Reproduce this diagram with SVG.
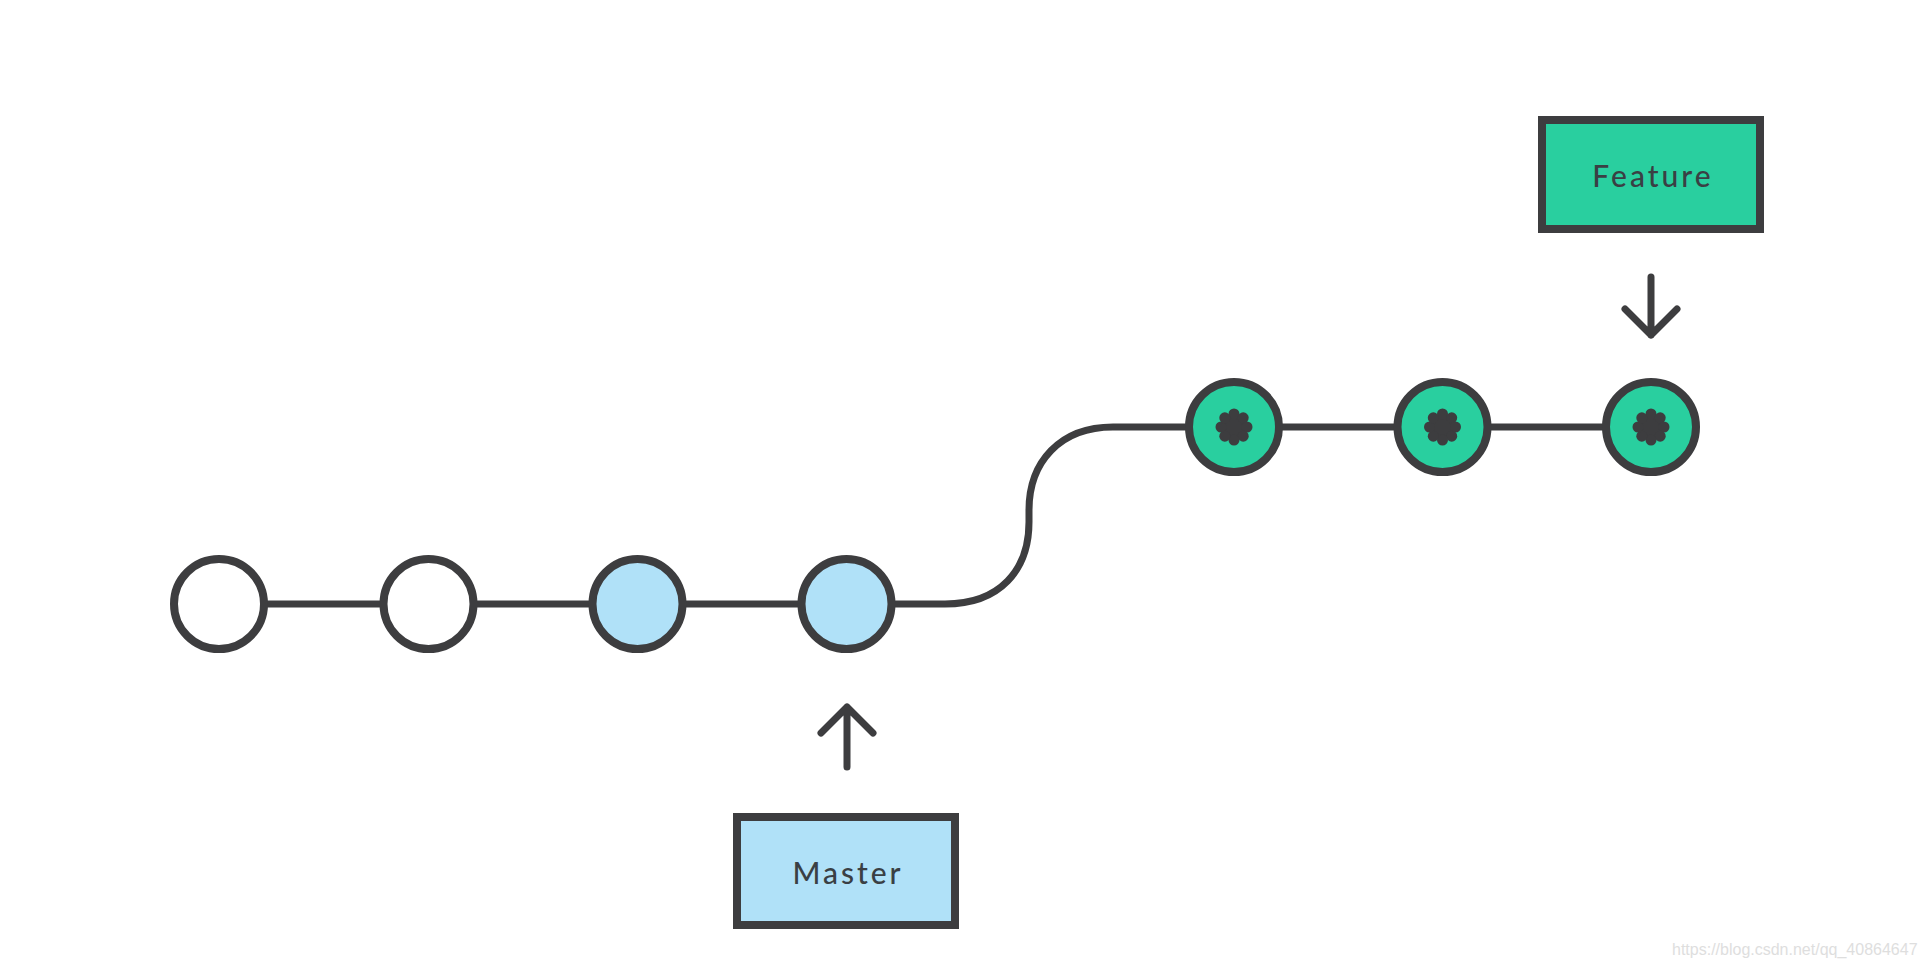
<svg xmlns="http://www.w3.org/2000/svg" width="1924" height="968" viewBox="0 0 1924 968">
  <style>
    .ln { fill: none; stroke: #3d3d3f; stroke-width: 7; stroke-linecap: round; stroke-linejoin: round; }
    .cm { stroke: #3d3d3f; stroke-width: 8; }
    .plain { fill: #ffffff; }
    .blue { fill: #b0e1f8; }
    .green { fill: #29cf9f; }
    .box { stroke: #3d3d3f; stroke-width: 8; }
    .lbl { font-family: "Lato", "Noto Sans", "Liberation Sans", sans-serif; font-size: 30px; font-weight: 500; fill: #3a3f44; text-anchor: middle; letter-spacing: 3px; }
    .mark { fill: #3d3d3f; }
    .wm { font-family: "Liberation Sans", Arial, sans-serif; font-size: 16px; fill: #dedede; }
  </style>
  <defs>
    <g id="star">
      <circle r="11"/>
      <circle cx="0" cy="-13" r="5.5"/>
      <circle cx="9.2" cy="-9.2" r="5.5"/>
      <circle cx="13" cy="0" r="5.5"/>
      <circle cx="9.2" cy="9.2" r="5.5"/>
      <circle cx="0" cy="13" r="5.5"/>
      <circle cx="-9.2" cy="9.2" r="5.5"/>
      <circle cx="-13" cy="0" r="5.5"/>
      <circle cx="-9.2" cy="-9.2" r="5.5"/>
    </g>
  </defs>
  <rect width="1924" height="968" fill="#ffffff"/>

  <g id="connectors">
    <path class="ln" d="M 219 604 H 945 C 1000 604 1029 570 1029 522 L 1029 510 C 1029 462 1060 427 1113 427 H 1651"/>
    <path class="ln" d="M 847 767 V 707 M 821 733 L 847 707 L 873 733"/>
    <path class="ln" d="M 1651 277 V 335 M 1625 309 L 1651 335 L 1677 309"/>
  </g>

  <g id="c1"><circle class="cm plain" cx="219" cy="604" r="45"/></g>
  <g id="c2"><circle class="cm plain" cx="428.5" cy="604" r="45"/></g>
  <g id="c3"><circle class="cm blue" cx="637.5" cy="604" r="45"/></g>
  <g id="c4"><circle class="cm blue" cx="846.5" cy="604" r="45"/></g>
  <g id="f1"><circle class="cm green" cx="1234" cy="427" r="45"/><use href="#star" class="mark" x="1234" y="427"/></g>
  <g id="f2"><circle class="cm green" cx="1442.5" cy="427" r="45"/><use href="#star" class="mark" x="1442.5" y="427"/></g>
  <g id="f3"><circle class="cm green" cx="1651" cy="427" r="45"/><use href="#star" class="mark" x="1651" y="427"/></g>

  <g id="master">
    <rect class="box blue" x="737" y="817" width="218" height="108"/>
    <text class="lbl" x="848" y="884">Master</text>
  </g>
  <g id="feature">
    <rect class="box green" x="1542" y="120" width="218" height="109"/>
    <text class="lbl" x="1653" y="187">Feature</text>
  </g>

  <text class="wm" x="1672" y="955">https://blog.csdn.net/qq_40864647</text>
</svg>
